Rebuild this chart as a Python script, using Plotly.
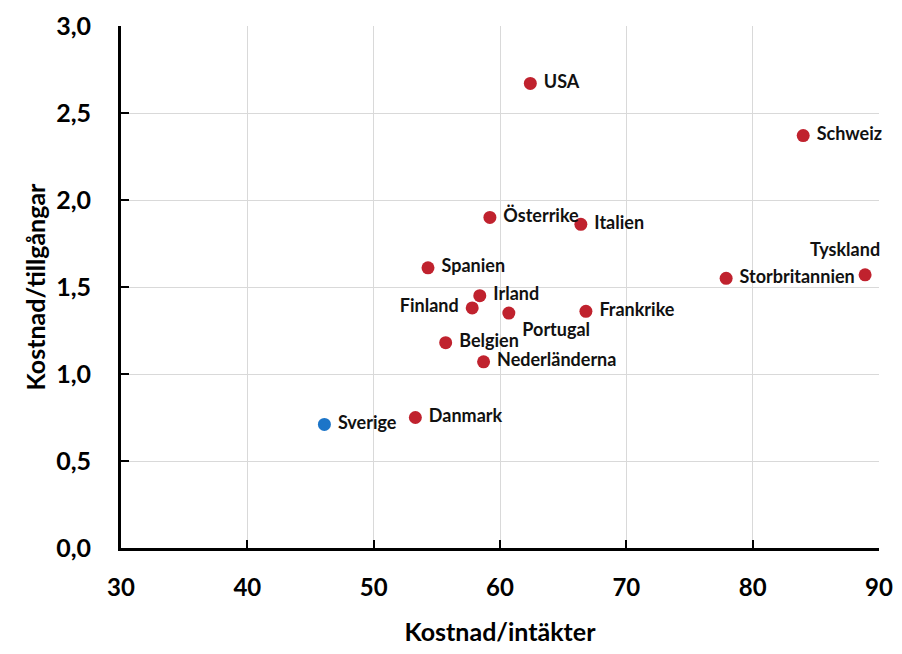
import plotly.graph_objects as go

countries = ["USA", "Schweiz", "Österrike", "Italien", "Tyskland", "Storbritannien",
             "Spanien", "Irland", "Finland", "Portugal", "Frankrike", "Belgien",
             "Nederländerna", "Danmark", "Sverige"]
cost_income = [62.4, 84.0, 59.2, 66.4, 88.9, 77.9, 54.3, 58.4, 57.8, 60.7, 66.8, 55.7, 58.7, 53.3, 46.1]
cost_assets = [2.67, 2.37, 1.90, 1.86, 1.57, 1.55, 1.61, 1.45, 1.38, 1.35, 1.36, 1.18, 1.07, 0.75, 0.71]
positions = ["middle right", "middle right", "middle right", "middle right", "top center",
             "middle right", "middle right", "middle right", "middle left", "bottom right",
             "middle right", "middle right", "middle right", "middle right", "middle right"]
colors = ["#C0222E" if c != "Sverige" else "#1C75C8" for c in countries]

font = "Lato, 'Open Sans', sans-serif"
label_font = dict(family=font, size=18, color="#111111", weight="bold")

# Tyskland label is placed as an annotation (right-aligned above its marker)
special = "Tyskland"
labels = ["" if c == special else (" " + c + " ") for c in countries]

fig = go.Figure(go.Scatter(
    x=cost_income, y=cost_assets, mode="markers+text",
    text=labels, textposition=positions,
    textfont=label_font,
    marker=dict(size=13, color=colors),
    cliponaxis=False, showlegend=False,
))

i = countries.index(special)
fig.add_annotation(x=cost_income[i], y=cost_assets[i], text=special, showarrow=False,
                   xanchor="right", yanchor="bottom", xshift=17, yshift=13,
                   font=label_font)

fig.update_xaxes(
    range=[30, 90], dtick=10, tickformat="d", automargin=False,
    showgrid=True, gridcolor="#d9d9d9", gridwidth=1,
    showline=True, linecolor="black", linewidth=3,
    ticks="inside", ticklen=8, tickwidth=2, tickcolor="black", ticklabelstandoff=16,
    ticklabeloverflow="allow",
    tickfont=dict(family=font, size=24, color="black", weight="bold"),
    title=dict(text="Kostnad/intäkter", font=dict(family=font, size=25, color="black", weight="bold"), standoff=26),
    zeroline=False, mirror=False,
)
fig.update_yaxes(
    range=[0, 3.0], dtick=0.5, tickformat=".1f", automargin=False,
    showgrid=True, gridcolor="#d9d9d9", gridwidth=1,
    showline=True, linecolor="black", linewidth=3,
    ticks="inside", ticklen=8, tickwidth=2, tickcolor="black", ticklabelstandoff=22,
    ticklabeloverflow="allow",
    tickfont=dict(family=font, size=25, color="black", weight="bold"),
    title=dict(text="Kostnad/tillgångar", font=dict(family=font, size=25, color="black", weight="bold"), standoff=4),
    zeroline=False,
)
fig.update_layout(
    width=886, height=638,
    margin=dict(l=113, r=15, t=18, b=98),
    plot_bgcolor="white", paper_bgcolor="white",
    separators=", ",
)
fig.write_html("out.html")
